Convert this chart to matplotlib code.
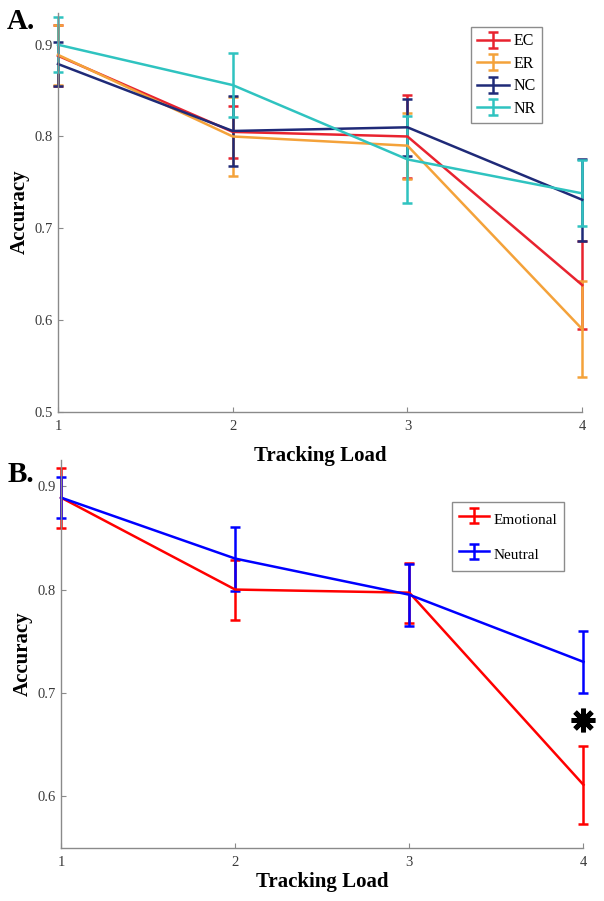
import matplotlib
matplotlib.use("Agg")
import matplotlib.pyplot as plt

plt.rcParams.update({"font.family": ["Liberation Serif", "DejaVu Serif"]})

LOAD = [1, 2, 3, 4]

# panel A: four conditions
EC = [0.888, 0.805, 0.800, 0.638]
EC_ERR = [0.033, 0.028, 0.045, 0.048]
ER = [0.889, 0.800, 0.790, 0.590]
ER_ERR = [0.033, 0.043, 0.036, 0.052]
NC = [0.879, 0.806, 0.810, 0.731]
NC_ERR = [0.024, 0.038, 0.031, 0.045]
NR = [0.900, 0.856, 0.775, 0.738]
NR_ERR = [0.030, 0.035, 0.047, 0.036]

# panel B: pooled
EMO = [0.889, 0.800, 0.797, 0.611]
EMO_ERR = [0.029, 0.029, 0.029, 0.038]
NEU = [0.889, 0.830, 0.795, 0.730]
NEU_ERR = [0.020, 0.031, 0.030, 0.030]
STAR_Y = 0.674

COL_A = {"EC": "#e8232f", "ER": "#f4a23a", "NC": "#1f2a78", "NR": "#2fc3c0"}
AXCOL = "#8a8a8a"


def style(ax, ylim, yticks, xpad):
    ax.set_xlim(1, 4)
    ax.set_ylim(*ylim)
    ax.set_xticks(LOAD)
    ax.set_yticks(yticks)
    ax.set_yticklabels([f"{t:g}" for t in yticks])
    ax.patch.set_visible(False)
    for s in ("top", "right"):
        ax.spines[s].set_visible(False)
    for s in ("left", "bottom"):
        ax.spines[s].set_color(AXCOL)
        ax.spines[s].set_linewidth(1.0)
    ax.tick_params(direction="in", length=3.5, width=0.8, color=AXCOL,
                   labelcolor="#3a3a3a", labelsize=10.5)
    ax.tick_params(axis="x", pad=6)
    ax.tick_params(axis="y", pad=4)
    ax.set_xlabel("Tracking Load", fontsize=15, fontweight="bold", labelpad=xpad)
    ax.set_ylabel("Accuracy", fontsize=15, fontweight="bold", labelpad=3)


fig = plt.figure(figsize=(6.04, 9.01), dpi=100)

axA = fig.add_axes([0.096, 0.543, 0.868, 0.443])
for name, ys, es in (("EC", EC, EC_ERR), ("ER", ER, ER_ERR),
                     ("NC", NC, NC_ERR), ("NR", NR, NR_ERR)):
    axA.errorbar(LOAD, ys, yerr=es, color=COL_A[name], lw=1.8, elinewidth=1.8,
                 capsize=3.5, capthick=1.8, label=name, clip_on=False)
style(axA, (0.5, 0.935), [0.5, 0.6, 0.7, 0.8, 0.9], 9)
leg = axA.legend(loc="upper right", bbox_to_anchor=(0.924, 0.964), fontsize=11.5,
                 frameon=True, fancybox=False, edgecolor="#707070",
                 handlelength=2.0, handletextpad=0.3, labelspacing=0.4,
                 borderpad=0.4, borderaxespad=0)
leg.get_frame().set_linewidth(1.0)
fig.text(0.012, 0.968, "A.", fontsize=21, fontweight="bold")

axB = fig.add_axes([0.101, 0.059, 0.865, 0.43])
axB.errorbar(LOAD, EMO, yerr=EMO_ERR, color="#ff0000", lw=1.8, elinewidth=1.8,
             capsize=3.5, capthick=1.8, label="Emotional", clip_on=False)
axB.errorbar(LOAD, NEU, yerr=NEU_ERR, color="#0000ff", lw=1.8, elinewidth=1.8,
             capsize=3.5, capthick=1.8, label="Neutral", clip_on=False)
axB.plot([4], [STAR_Y], marker=(8, 2, 0), ms=17, mew=3.5, color="black",
         clip_on=False)
style(axB, (0.55, 0.925), [0.6, 0.7, 0.8, 0.9], 2)
leg = axB.legend(loc="upper right", bbox_to_anchor=(0.962, 0.893), fontsize=11,
                 frameon=True, fancybox=False, edgecolor="#707070",
                 handlelength=2.0, handleheight=1.8, handletextpad=0.3,
                 labelspacing=0.9, borderpad=0.4, borderaxespad=0)
leg.get_frame().set_linewidth(1.0)
fig.text(0.012, 0.465, "B.", fontsize=21, fontweight="bold")

fig.savefig("out.png", dpi=100)
